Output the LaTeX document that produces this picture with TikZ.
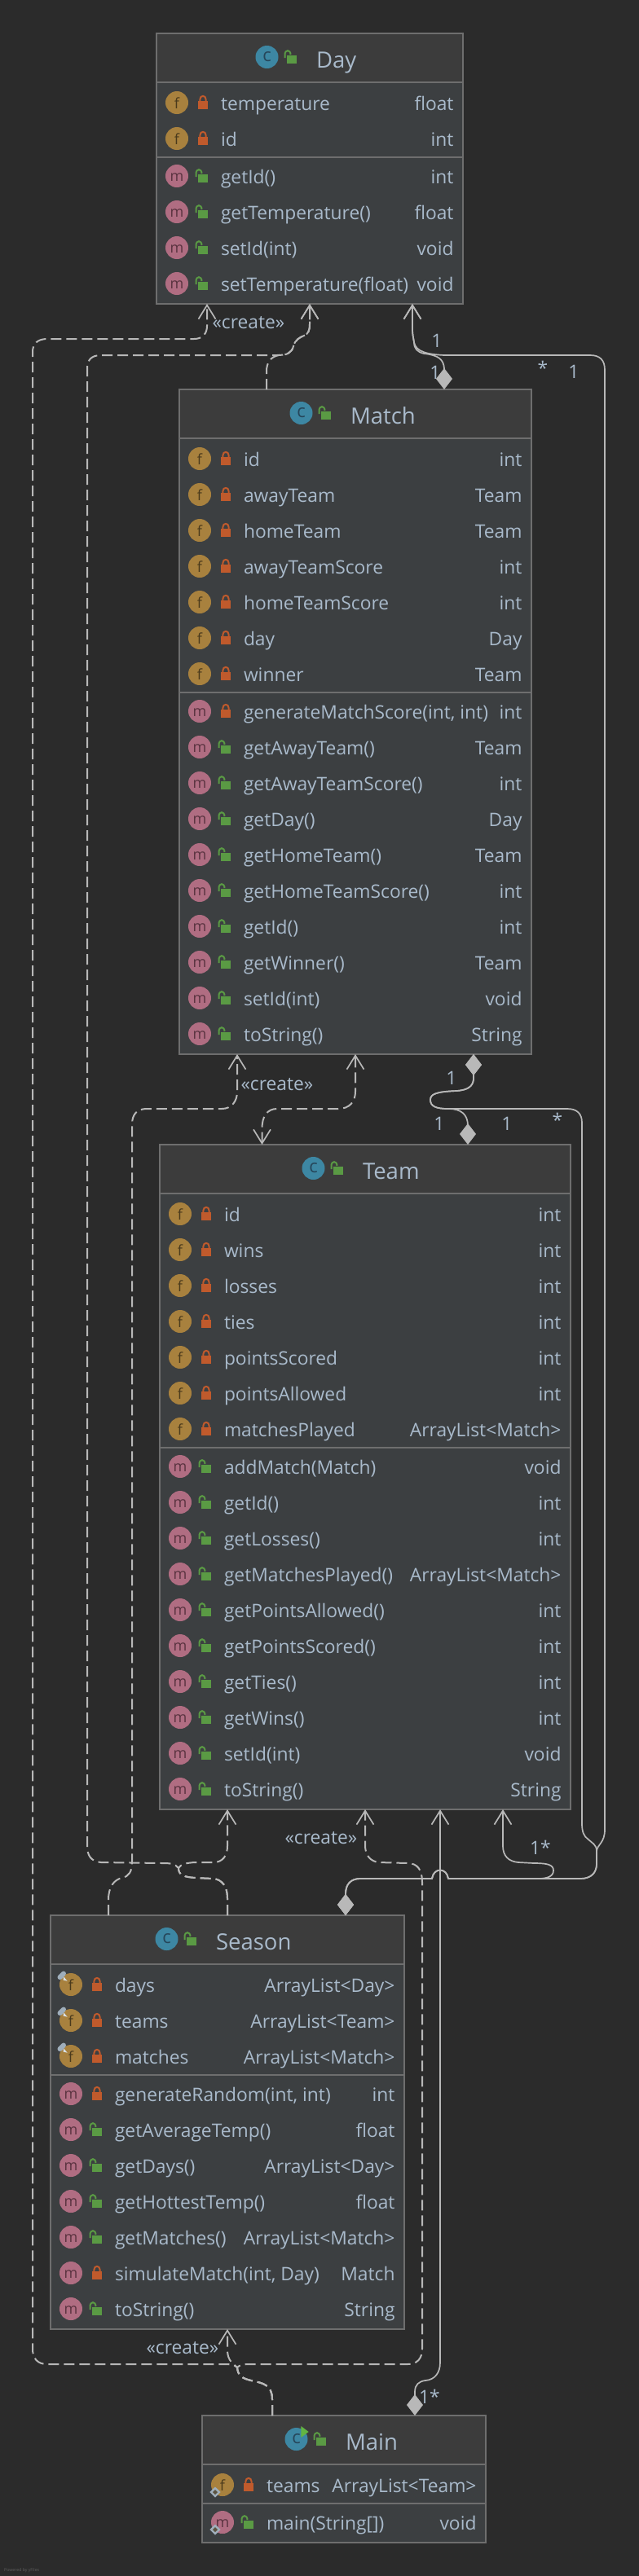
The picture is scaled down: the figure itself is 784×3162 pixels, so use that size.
\documentclass[tikz,border=0pt]{standalone}
\usepackage{fontspec}
\setmainfont{Open Sans}
\usetikzlibrary{arrows.meta,calc}
\definecolor{bgc}{HTML}{2B2B2B}
\definecolor{headc}{HTML}{3C3C3C}
\definecolor{bodyc}{HTML}{3C3F41}
\definecolor{borderc}{HTML}{6E6E6E}
\definecolor{txtc}{HTML}{A9BACB}
\definecolor{linec}{HTML}{B8B8B8}
\definecolor{redl}{HTML}{C05A2C}
\definecolor{grnl}{HTML}{5A9A44}
\definecolor{playc}{HTML}{62B543}
\definecolor{ficon}{HTML}{A8813E}
\definecolor{fdark}{HTML}{4A3A1C}
\definecolor{micon}{HTML}{B06D82}
\definecolor{mdark}{HTML}{5A3340}
\definecolor{cicon}{HTML}{3D87A3}
\definecolor{cdark}{HTML}{26465A}
\definecolor{tagc}{HTML}{9FAEBB}
\definecolor{footc}{HTML}{5E5E5E}
\tikzset{
  umlnode/.style={draw=borderc,fill=bodyc,line width=2pt,inner sep=0pt,outer sep=0pt,anchor=north west},
  rowtext/.style={text=txtc,font=\fontsize{22.8}{26}\selectfont,inner sep=0pt,outer sep=0pt},
  titletext/.style={text=txtc,font=\fontsize{27.5}{32}\selectfont,inner sep=0pt,outer sep=0pt,anchor=base west},
  lbl/.style={text=txtc,font=\fontsize{22.8}{26}\selectfont,inner sep=0pt,outer sep=0pt},
  dep/.style={draw=linec,line width=2pt,dash pattern=on 13pt off 6pt},
  sol/.style={draw=linec,line width=1.7pt},
  barb/.tip={Straight Barb[length=17pt,width=21pt,line width=1.7pt]},
  dia/.tip={Diamond[length=26pt,width=20pt]},
}
\newcount\rowy
\newcount\nid
\def\bl{0}\def\br{0}
\newcommand\icontext[6]{% cx cy letter size col baseline-off
  \global\advance\nid by 1
  \node[text=#5,font=\fontsize{#4}{#4}\selectfont,inner sep=0pt,anchor=base] (ic\the\nid) at (#1,#2+#6) {#3};}
\newcommand\lockr[2]{%
  \fill[redl] (#1-6,#2-2) rectangle (#1+6,#2+8);
  \draw[redl,line width=2pt] (#1-3.6,#2-1) -- (#1-3.6,#2-4) .. controls (#1-3.6,#2-9.5) and (#1+3.6,#2-9.5) .. (#1+3.6,#2-4) -- (#1+3.6,#2-1);}
\newcommand\lockg[2]{%
  \fill[grnl] (#1-6,#2-2) rectangle (#1+6,#2+8);
  \draw[grnl,line width=2pt] (#1-8.5,#2+1) -- (#1-8.5,#2-3) .. controls (#1-8.5,#2-9.5) and (#1-1.5,#2-9.5) .. (#1-1.5,#2-3);}
\newcommand\umlbox[7]{% name L R T B titlex title
  \def\bl{#2}\def\br{#3}%
  \node[umlnode,minimum width=#3pt-#2pt,minimum height=#5pt-#4pt] (#1) at (#2,#4) {};
  \draw[draw=borderc,fill=headc,line width=2pt] (#2,#4) rectangle (#3,#4+60);
  \fill[cicon] (#6-60.5,#4+29) circle[radius=14pt];
  \icontext{#6-60.5}{#4+29}{c}{22}{cdark}{5.5}
  \lockg{#6-30}{#4+29}
  \global\advance\nid by 1
  \node[titletext] (ti\the\nid) at (#6,#4+42) {#7};
  \rowy=\numexpr#4+85\relax}
\newcommand\rowtexts[2]{%
  \global\advance\nid by 1
  \node[rowtext,anchor=base west] (rl\the\nid) at (\bl+79,\the\rowy+9.5) {#1};
  \node[rowtext,anchor=base east] (rr\the\nid) at (\br-11.5,\the\rowy+9.5) {#2};}
\newcommand\F[2]{%
  \fill[ficon] (\bl+25,\the\rowy) circle[radius=14pt];
  \icontext{\bl+25}{\the\rowy}{f}{18}{fdark}{7}
  \lockr{\bl+57}{\the\rowy}
  \rowtexts{#1}{#2}\advance\rowy by 44 }
\newcommand\sepline{%
  \advance\rowy by -21
  \draw[borderc,line width=2pt] (\bl,\the\rowy) -- (\br,\the\rowy);
  \advance\rowy by 23 }
\newcommand\M[2]{%
  \fill[micon] (\bl+25,\the\rowy) circle[radius=14pt];
  \icontext{\bl+25}{\the\rowy}{m}{18}{mdark}{6}
  \lockg{\bl+57}{\the\rowy}
  \rowtexts{#1}{#2}\advance\rowy by 44 }
\newcommand\Mp[2]{%
  \fill[micon] (\bl+25,\the\rowy) circle[radius=14pt];
  \icontext{\bl+25}{\the\rowy}{m}{18}{mdark}{6}
  \lockr{\bl+57}{\the\rowy}
  \rowtexts{#1}{#2}\advance\rowy by 44 }
\newcommand\pin{% tag on the field row just written
  \draw[tagc,line width=6pt,line cap=round] (\bl+11.5,\the\rowy-53) -- (\bl+16,\the\rowy-57.5);
  \fill[white!60!tagc] (\bl+16.3,\the\rowy-53.5) -- (\bl+20.7,\the\rowy-48.3) -- (\bl+15.5,\the\rowy-49.5) -- cycle;}
\newcommand\stat{% diamond at the lower left of the circle of the row just written
  \fill[tagc] (\bl+16,\the\rowy-41.5) -- (\bl+22.7,\the\rowy-35) -- (\bl+16,\the\rowy-28.5) -- (\bl+9.3,\the\rowy-35) -- cycle;
  \fill[bodyc!70!ficon] (\bl+16,\the\rowy-38) -- (\bl+19,\the\rowy-35) -- (\bl+16,\the\rowy-32) -- (\bl+13,\the\rowy-35) -- cycle;}
\begin{document}
\begin{tikzpicture}[x=1pt,y=-1pt]
\useasboundingbox (0,0) rectangle (784,3162);
\fill[bgc] (0,0) rectangle (784,3162);

% ---------- Day
\umlbox{day}{192}{568}{41}{373}{388}{Day}
\F{temperature}{float}
\F{id}{int}
\sepline
\M{getId()}{int}
\M{getTemperature()}{float}
\M{setId(int)}{void}
\M{setTemperature(float)}{void}

% ---------- Match
\umlbox{match}{220}{652}{478}{1294}{430}{Match}
\F{id}{int}
\F{awayTeam}{Team}
\F{homeTeam}{Team}
\F{awayTeamScore}{int}
\F{homeTeamScore}{int}
\F{day}{Day}
\F{winner}{Team}
\sepline
\Mp{generateMatchScore(int, int)}{int}
\M{getAwayTeam()}{Team}
\M{getAwayTeamScore()}{int}
\M{getDay()}{Day}
\M{getHomeTeam()}{Team}
\M{getHomeTeamScore()}{int}
\M{getId()}{int}
\M{getWinner()}{Team}
\M{setId(int)}{void}
\M{toString()}{String}

% ---------- Team
\umlbox{team}{196}{700}{1405}{2221}{445}{Team}
\F{id}{int}
\F{wins}{int}
\F{losses}{int}
\F{ties}{int}
\F{pointsScored}{int}
\F{pointsAllowed}{int}
\F{matchesPlayed}{ArrayList<Match>}
\sepline
\M{addMatch(Match)}{void}
\M{getId()}{int}
\M{getLosses()}{int}
\M{getMatchesPlayed()}{ArrayList<Match>}
\M{getPointsAllowed()}{int}
\M{getPointsScored()}{int}
\M{getTies()}{int}
\M{getWins()}{int}
\M{setId(int)}{void}
\M{toString()}{String}

% ---------- Season
\umlbox{season}{62}{496}{2351}{2859}{265}{Season}
\F{days}{ArrayList<Day>}\pin
\F{teams}{ArrayList<Team>}\pin
\F{matches}{ArrayList<Match>}\pin
\sepline
\Mp{generateRandom(int, int)}{int}
\M{getAverageTemp()}{float}
\M{getDays()}{ArrayList<Day>}
\M{getHottestTemp()}{float}
\M{getMatches()}{ArrayList<Match>}
\Mp{simulateMatch(int, Day)}{Match}
\M{toString()}{String}

% ---------- Main
\umlbox{main}{248}{596}{2965}{3121}{424}{Main}
\fill[playc] (369.3,2978) -- (378.7,2985) -- (369.3,2992) -- cycle;
\F{teams}{ArrayList<Team>}\stat
\sepline
\M{main(String[])}{void}\stat

% ---------- ports
\coordinate (dayA) at ([xshift=62pt]day.south west);
\coordinate (dayB) at (day.south);
\coordinate (dayC) at ([xshift=314pt]day.south west);
\coordinate (matchNa) at ([xshift=107pt]match.north west);
\coordinate (matchNb) at ([xshift=325pt]match.north west);
\coordinate (matchSa) at ([xshift=71pt]match.south west);
\coordinate (matchSb) at (match.south);
\coordinate (matchSc) at ([xshift=361pt]match.south west);
\coordinate (teamNa) at ([xshift=125.5pt]team.north west);
\coordinate (teamNb) at ([xshift=378pt]team.north west);
\coordinate (teamSa) at ([xshift=83pt]team.south west);
\coordinate (teamSb) at ([xshift=252pt]team.south west);
\coordinate (teamSc) at ([xshift=344pt]team.south west);
\coordinate (teamSd) at ([xshift=421pt]team.south west);
\coordinate (seasonNa) at ([xshift=71pt]season.north west);
\coordinate (seasonNb) at (season.north);
\coordinate (seasonNc) at ([xshift=362pt]season.north west);
\coordinate (seasonS) at (season.south);
\coordinate (mainNa) at ([xshift=86pt]main.north west);
\coordinate (mainNb) at ([xshift=261pt]main.north west);

\def\mainstem{(mainNa) -- (334,2945) .. controls (334,2927) and (322,2925) .. (308,2922) .. controls (296,2919) and (292,2916) .. (291,2906)}
\def\seasonstem{(seasonNb) -- (279,2330) .. controls (279,2315) and (272,2307) .. (262,2306) -- (240,2305) .. controls (226,2304) and (219,2302) .. (219,2293)}
\def\soltrunk{(seasonNc) -- (424,2325) .. controls (424,2313) and (430,2306) .. (442,2306) -- (530,2306) .. controls (532,2292) and (548,2292) .. (550,2306)}

% ---------- dashed connectors
\draw[dep,-{barb}] \mainstem .. controls (288,2903) and (284,2902) .. (275,2902) -- (58,2902) .. controls (46,2902) and (40,2895) .. (40,2883) -- (40,432) .. controls (40,422) and (46,416) .. (58,416) -- (238,416) .. controls (248,416) and (254,410) .. (254,400) -- (dayA);
\draw[dep,-{barb}] \mainstem .. controls (294,2903) and (298,2902) .. (307,2902) -- (500,2902) .. controls (512,2902) and (518,2895) .. (518,2883) -- (518,2310) .. controls (518,2295) and (512,2287) .. (500,2287) -- (465,2286) .. controls (455,2285) and (448,2278) .. (448,2265) -- (teamSb);
\draw[dep,-{barb}] \mainstem .. controls (287,2902) and (279,2898) .. (279,2885) -- (seasonS);
\draw[dep,-{barb}] \seasonstem .. controls (215,2288) and (210,2287) .. (200,2287) -- (124,2286) .. controls (112,2285) and (107,2278) .. (107,2266) -- (107,452) .. controls (107,442) and (112,436) .. (124,436) -- (340,436) .. controls (352,436) and (358,433) .. (360,425) .. controls (362,417) and (368,414) .. (373,412) .. controls (378,410) and (380,406) .. (380,398) -- (dayB);
\draw[dep,-{barb}] (matchNa) -- (327,456) .. controls (327,445) and (332,438) .. (342,436) .. controls (352,436) and (358,433) .. (360,425) .. controls (362,417) and (368,414) .. (373,412) .. controls (378,410) and (380,406) .. (380,398) -- (dayB);
\draw[dep,-{barb}] \seasonstem .. controls (222,2288) and (228,2287) .. (238,2286) -- (262,2286) .. controls (273,2286) and (279,2278) .. (279,2266) -- (teamSa);
\draw[dep,-{barb}] (seasonNa) -- (133,2332) .. controls (133,2316) and (140,2307) .. (150,2305) .. controls (158,2303) and (162,2298) .. (162,2285) -- (162,1380) .. controls (162,1368) and (168,1361) .. (180,1361) -- (272,1361) .. controls (284,1361) and (291,1352) .. (291,1340) -- (matchSa);
\draw[dep,{barb}-{barb}] (teamNa) -- (321.5,1385) .. controls (321.5,1370) and (328,1361) .. (340,1361) -- (415,1361) .. controls (429,1361) and (436,1352) .. (436,1340) -- (matchSb);

% ---------- solid connectors
\draw[sol,{dia}-{barb}] (mainNb) -- (509,2936) .. controls (509,2927) and (514,2923) .. (522,2922) .. controls (534,2921) and (540,2912) .. (540,2900) -- (teamSc);
\draw[sol,{dia}-{dia}] (matchSc) -- (581,1325) .. controls (580,1333) and (575,1338) .. (560,1339) .. controls (535,1340) and (528,1343) .. (528,1350) .. controls (528,1358) and (535,1361) .. (550,1361) .. controls (566,1361) and (574,1368) .. (574,1382) -- (teamNb);
\draw[sol,{dia}-{dia}] \soltrunk -- (712,2306) .. controls (726,2306) and (732,2298) .. (732,2288) -- (732,2272) .. controls (732,2264) and (726,2262) .. (722,2258) .. controls (716,2254) and (714,2248) .. (714,2238) -- (714,1378) .. controls (714,1367) and (708,1361) .. (696,1361) -- (550,1361) .. controls (535,1361) and (528,1358) .. (528,1350) .. controls (528,1343) and (535,1340) .. (560,1339) .. controls (575,1338) and (580,1333) .. (581,1325) -- (matchSc);
\draw[sol,{dia}-{barb}] \soltrunk -- (712,2306) .. controls (726,2306) and (732,2298) .. (732,2288) -- (732,2272) .. controls (733,2264) and (742,2262) .. (742,2246) -- (742,454) .. controls (742,442) and (736,436) .. (724,436) -- (545,436) .. controls (525,435) and (510,432) .. (508,420) .. controls (507,414) and (506,410) .. (506,404) -- (dayC);
\draw[sol,{dia}-{barb}] \soltrunk -- (660,2306) .. controls (672,2306) and (679,2303) .. (679,2296) .. controls (679,2289) and (672,2287) .. (655,2287) -- (636,2286) .. controls (624,2285) and (617,2278) .. (617,2266) -- (teamSd);
\draw[sol,{dia}-{barb}] (matchNb) -- (545,452) .. controls (544,441) and (538,436) .. (520,434) .. controls (512,432) and (508,428) .. (508,420) .. controls (507,414) and (506,410) .. (506,404) -- (dayC);

% ---------- labels
\node[lbl] (l1) at (305,396) {«create»};
\node[lbl] (l2) at (340,1331) {«create»};
\node[lbl] (l3) at (394,2256) {«create»};
\node[lbl] (l4) at (224,2882) {«create»};
\node[lbl] (l5) at (536,418) {1};
\node[lbl] (l6) at (534,457) {1};
\node[lbl] (l7) at (666,452) {*};
\node[lbl] (l8) at (704,456) {1};
\node[lbl] (l9) at (554,1323) {1};
\node[lbl] (l10) at (539,1379) {1};
\node[lbl] (l11) at (622,1379) {1};
\node[lbl] (l12) at (684,1375) {*};
\node[lbl] (l13) at (663,2268) {1*};
\node[lbl] (l14) at (527,2942) {1*};
\node[text=footc,font=\fontsize{5.2}{6}\selectfont,inner sep=0pt,anchor=base west] (foot) at (5,3156) {Powered by yFiles};
\end{tikzpicture}
\end{document}
